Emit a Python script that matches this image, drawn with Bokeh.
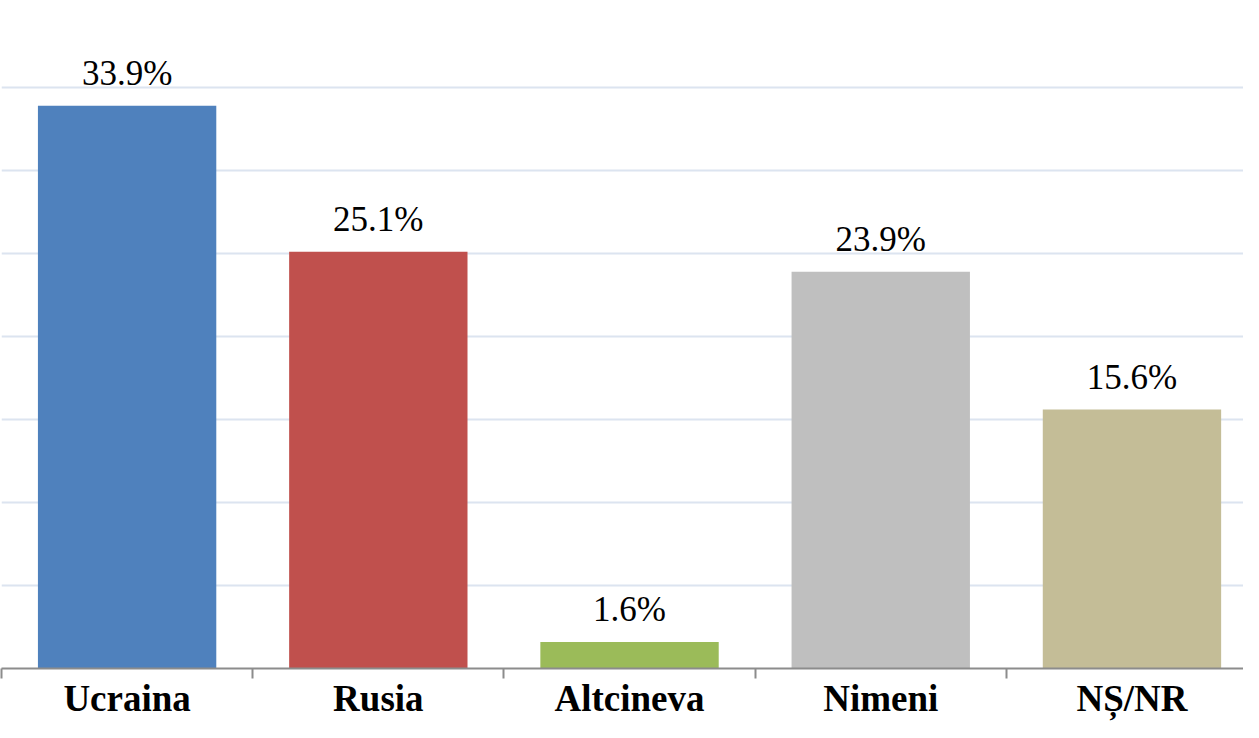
from bokeh.plotting import figure
from bokeh.models import ColumnDataSource, FixedTicker, LabelSet, Range1d
from bokeh.core.properties import value
from bokeh.embed import file_html
from bokeh.resources import INLINE

categories = ["Ucraina", "Rusia", "Altcineva", "Nimeni", "NȘ/NR"]
values = [33.9, 25.1, 1.6, 23.9, 15.6]
labels = ["33.9%", "25.1%", "1.6%", "23.9%", "15.6%"]
colors = ["#4F81BD", "#C0504D", "#9BBB59", "#BFBFBF", "#C4BD97"]
grid_ticks = [0, 5, 10, 15, 20, 25, 30, 35, 40]

xpos = [i + 0.5 for i in range(len(categories))]
src = ColumnDataSource(dict(x=xpos, top=values, lab=labels, color=colors))

SERIF = "Liberation Serif"

p = figure(width=1243, height=722, output_backend="svg", toolbar_location=None,
           x_range=Range1d(0, 4.944), y_range=Range1d(0, 40),
           min_border_left=1, min_border_right=0, min_border_top=4, min_border_bottom=54)
p.outline_line_color = None
p.background_fill_color = "white"

p.vbar(x="x", top="top", width=0.71, bottom=0, color="color", line_color=None, source=src)

p.add_layout(LabelSet(x="x", y="top", text="lab", source=src, y_offset=21,
                      text_align="center", text_baseline="alphabetic",
                      text_font=value(SERIF), text_font_size=value("35px"),
                      text_color=value("#000000")))

p.yaxis.visible = False
p.xgrid.grid_line_color = None
p.ygrid.ticker = FixedTicker(ticks=grid_ticks)
p.ygrid.grid_line_color = "#DCE4F0"
p.ygrid.grid_line_width = 2

ax = p.xaxis[0]
ax.ticker = FixedTicker(ticks=xpos, minor_ticks=list(range(len(categories) + 1)))
ax.major_label_overrides = {x: c for x, c in zip(xpos, categories)}
ax.major_tick_line_color = None
ax.major_tick_out = 10
ax.major_tick_in = 0
ax.minor_tick_out = 10
ax.minor_tick_in = 0
ax.minor_tick_line_color = "#8C8C8C"
ax.minor_tick_line_width = 2
ax.axis_line_color = "#8C8C8C"
ax.axis_line_width = 2
ax.major_label_standoff = -1
ax.major_label_text_line_height = 0.8
ax.major_label_text_font = SERIF
ax.major_label_text_font_style = "bold"
ax.major_label_text_font_size = "37px"
ax.major_label_text_color = "#000000"

open("out.html", "w").write(file_html(p, INLINE))
